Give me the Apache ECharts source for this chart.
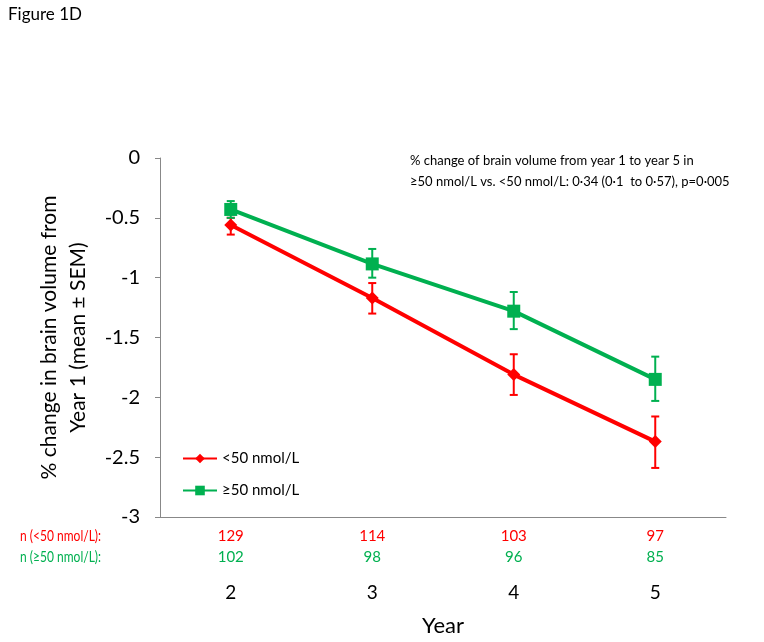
<!DOCTYPE html>
<html lang="en">
<head>
<meta charset="UTF-8">
<title>Figure 1D</title>
<script src="https://cdn.jsdelivr.net/npm/echarts@6/dist/echarts.min.js"></script>
<style>
    body { margin: 0; background: #fff; }
    #container { width: 764px; height: 642px; }
</style>
</head>
<body>
<div id="container"></div>
<script type="text/javascript">
    // data
    var years = ['2', '3', '4', '5'];
    var lowMean = [-0.56, -1.17, -1.81, -2.37];
    var lowErrTop = [-0.50, -1.045, -1.64, -2.16];
    var lowErrBottom = [-0.64, -1.30, -1.98, -2.59];
    var highMean = [-0.43, -0.885, -1.28, -1.85];
    var highErrTop = [-0.36, -0.76, -1.12, -1.66];
    var highErrBottom = [-0.50, -1.00, -1.43, -2.03];
    var nLow = [129, 114, 103, 97];
    var nHigh = [102, 98, 96, 85];

    var RED = '#ff0000';
    var GREEN = '#00b050';
    var FONT = 'Lato, "Open Sans", sans-serif';

    function errData(top, bottom) {
        return years.map(function (y, i) { return [i, bottom[i], top[i]]; });
    }

    function errRender(color) {
        return function (params, api) {
            var x = api.value(0);
            var lo = api.coord([x, api.value(1)]);
            var hi = api.coord([x, api.value(2)]);
            var w = 4;
            var st = { stroke: color, lineWidth: 2 };
            return {
                type: 'group',
                children: [
                    { type: 'line', shape: { x1: lo[0], y1: lo[1], x2: hi[0], y2: hi[1] }, style: st },
                    { type: 'line', shape: { x1: lo[0] - w, y1: lo[1], x2: lo[0] + w, y2: lo[1] }, style: st },
                    { type: 'line', shape: { x1: hi[0] - w, y1: hi[1], x2: hi[0] + w, y2: hi[1] }, style: st }
                ]
            };
        };
    }

    var dom = document.getElementById('container');
    var myChart = echarts.init(dom, null, { renderer: 'canvas' });
    var option = {
        animation: false,
        textStyle: { fontFamily: FONT },
        grid: { left: 160, right: 38, top: 158, bottom: 125, outerBoundsMode: 'none' },
        legend: {
            orient: 'vertical',
            left: 177,
            top: 446,
            itemWidth: 34,
            itemHeight: 12,
            itemGap: 17,
            textStyle: { fontSize: 15, color: '#000', fontFamily: FONT },
            data: ['<50 nmol/L', '≥50 nmol/L']
        },
        xAxis: {
            type: 'category',
            data: years,
            name: 'Year',
            nameLocation: 'middle',
            nameGap: 98,
            nameTextStyle: { fontSize: 22, color: '#000' },
            axisLine: { onZero: false, lineStyle: { color: '#888', width: 1 } },
            axisTick: { length: 5, lineStyle: { color: '#888' } },
            axisLabel: {
                margin: 9,
                formatter: function (v, i) {
                    return '{r|' + nLow[i] + '}\n{g|' + nHigh[i] + '}\n{y|' + v + '}';
                },
                rich: {
                    r: { color: RED, fontSize: 15, lineHeight: 21, fontFamily: FONT },
                    g: { color: GREEN, fontSize: 15, lineHeight: 21, fontFamily: FONT },
                    y: { color: '#000', fontSize: 19, lineHeight: 50, fontFamily: FONT }
                }
            }
        },
        yAxis: {
            type: 'value',
            min: -3,
            max: 0,
            interval: 0.5,
            name: '% change in brain volume from\nYear 1 (mean ± SEM)',
            nameLocation: 'middle',
            nameRotate: 90,
            nameGap: 67,
            nameTextStyle: { fontSize: 21, color: '#000', lineHeight: 29 },
            splitLine: { show: false },
            axisLine: { show: true, lineStyle: { color: '#888', width: 1 } },
            axisTick: { show: true, length: 5, lineStyle: { color: '#888' } },
            axisLabel: { fontSize: 20, color: '#000', margin: 20 }
        },
        graphic: [
            {
                type: 'text', left: 8, top: 6,
                style: { text: 'Figure 1D', fontSize: 17, fontFamily: FONT, fill: '#000' }
            },
            {
                type: 'text', left: 410, top: 150,
                style: {
                    text: '% change of brain volume from year 1 to year 5 in\n≥50 nmol/L vs. <50 nmol/L: 0·34 (0·1  to 0·57), p=0·005',
                    fontSize: 13, fontFamily: FONT, fill: '#000', lineHeight: 21
                }
            },
            // row labels for the n counts, squeezed a bit like the narrow original font
            {
                type: 'text', x: 101, y: 536, scaleX: 0.8,
                style: {
                    text: 'n (<50 nmol/L):', fontSize: 15, fontFamily: FONT, fill: RED,
                    align: 'right', verticalAlign: 'middle'
                }
            },
            {
                type: 'text', x: 101, y: 557, scaleX: 0.8,
                style: {
                    text: 'n (≥50 nmol/L):', fontSize: 15, fontFamily: FONT, fill: GREEN,
                    align: 'right', verticalAlign: 'middle'
                }
            }
        ],
        series: [
            {
                name: 'err-low', type: 'custom', z: 2,
                renderItem: errRender(RED),
                encode: { x: 0, y: [1, 2] },
                data: errData(lowErrTop, lowErrBottom)
            },
            {
                name: 'err-high', type: 'custom', z: 2,
                renderItem: errRender(GREEN),
                encode: { x: 0, y: [1, 2] },
                data: errData(highErrTop, highErrBottom)
            },
            {
                name: '<50 nmol/L', type: 'line', z: 3,
                data: lowMean,
                symbol: 'diamond', symbolSize: 13,
                color: RED,
                lineStyle: { color: RED, width: 4 },
                itemStyle: { color: RED }
            },
            {
                name: '≥50 nmol/L', type: 'line', z: 3,
                data: highMean,
                symbol: 'rect', symbolSize: 13,
                color: GREEN,
                lineStyle: { color: GREEN, width: 4 },
                itemStyle: { color: GREEN }
            }
        ]
    };
    myChart.setOption(option);
    window.addEventListener('resize', myChart.resize);
</script>
</body>
</html>
